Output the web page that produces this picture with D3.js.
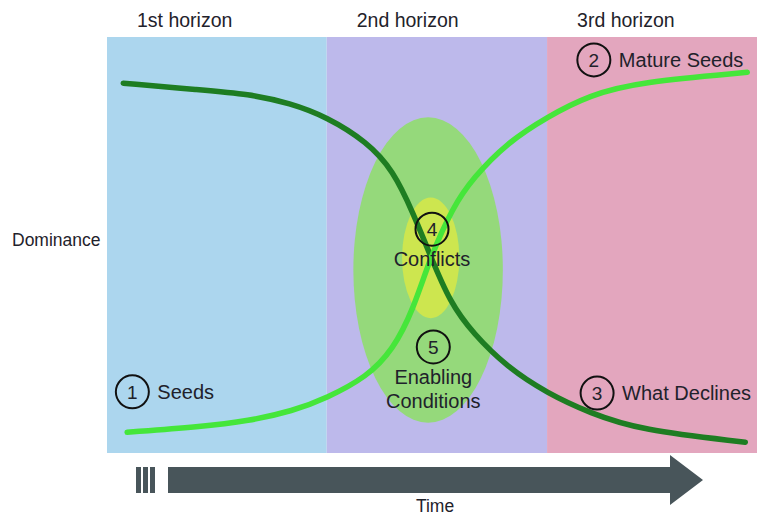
<!DOCTYPE html>
<html>
<head>
<meta charset="utf-8">
<script src="https://cdn.jsdelivr.net/npm/d3@7/dist/d3.min.js"></script>
<style>
  body { margin: 0; background: #fff; }
  svg text { font-family: "Liberation Sans", Arial, sans-serif; fill: #1f222b; }
</style>
</head>
<body>
<div id="chart"></div>
<script>
// Horizons (time ranges, 0..100)
const horizonNames = ['1st horizon', '2nd horizon', '3rd horizon'];
const horizonStart = [0, 33.8, 67.7];
const horizonEnd = [33.8, 67.7, 100];
const horizonColors = ['#acd6ee', '#bdb9eb', '#e3a6be'];

// Dominance curves (time, dominance)
const declineTime = [2.5, 14.3, 21.8, 28.2, 33.8, 40.0, 44.0, 47.1, 49.7, 52.8, 56.3, 61.5, 67.7, 74.3, 82.0, 98.2];
const declineValue = [88.9, 87.3, 86.3, 84.1, 80.8, 74.8, 68.0, 57.7, 47.6, 36.1, 28.8, 20.7, 14.4, 9.6, 5.5, 2.6];
const riseTime = [3.1, 14.3, 21.8, 28.6, 33.8, 40.0, 44.0, 47.1, 49.7, 53.2, 56.3, 61.5, 67.7, 74.3, 82.0, 98.5];
const riseValue = [5.0, 6.3, 7.7, 10.1, 13.2, 18.3, 24.8, 34.4, 46.9, 59.1, 66.1, 74.5, 80.8, 86.1, 89.2, 91.5];

// Zones: centre (time, dominance) and radii
const zoneCx = [49.4, 49.8];
const zoneCy = [44.0, 46.9];
const zoneRx = [11.5, 4.4];
const zoneRy = [36.7, 14.5];
const zoneColors = ['#95d97b', '#cde64f'];

// Numbered annotations
const noteNum = [1, 2, 3, 4, 5];
const noteLines = [['Seeds'], ['Mature Seeds'], ['What Declines'], ['Conflicts'], ['Enabling', 'Conditions']];
const noteX = [3.9, 74.9, 75.4, 50.0, 50.2];
const noteY = [14.7, 94.5, 14.4, 53.8, 25.5];
const noteSide = ['right', 'right', 'right', 'below', 'below'];

const width = 758, height = 515;
const margin = { left: 107, right: 1, top: 37, bottom: 62 };

const x = d3.scaleLinear().domain([0, 100]).range([margin.left, width - margin.right]);
const y = d3.scaleLinear().domain([0, 100]).range([height - margin.bottom, margin.top]);

const svg = d3.select('#chart').append('svg')
  .attr('width', width)
  .attr('height', height);

// Background bands
svg.selectAll('rect.band')
  .data(horizonNames)
  .enter()
  .append('rect')
    .attr('class', 'band')
    .attr('x', (d, i) => x(horizonStart[i]))
    .attr('y', y(100))
    .attr('width', (d, i) => x(horizonEnd[i]) - x(horizonStart[i]))
    .attr('height', y(0) - y(100))
    .attr('fill', (d, i) => horizonColors[i]);

svg.selectAll('text.horizon')
  .data(horizonNames)
  .enter()
  .append('text')
    .attr('class', 'horizon')
    .attr('x', (d, i) => x(horizonStart[i]) + 30)
    .attr('y', 27)
    .style('font-size', '19.5px')
    .text(d => d);

// Zones
svg.selectAll('ellipse.zone')
  .data(zoneCx)
  .enter()
  .append('ellipse')
    .attr('class', 'zone')
    .attr('cx', (d, i) => x(zoneCx[i]))
    .attr('cy', (d, i) => y(zoneCy[i]))
    .attr('rx', (d, i) => x(zoneRx[i]) - x(0))
    .attr('ry', (d, i) => y(0) - y(zoneRy[i]))
    .attr('fill', (d, i) => zoneColors[i]);

// Curves
const line = d3.line()
  .x(d => x(d[0]))
  .y(d => y(d[1]))
  .curve(d3.curveBasis);

svg.append('path')
  .datum(declineTime.map((t, i) => [t, declineValue[i]]))
  .attr('d', line)
  .attr('fill', 'none')
  .attr('stroke', '#1e7d22')
  .attr('stroke-width', 5.5)
  .attr('stroke-linecap', 'round');

svg.append('path')
  .datum(riseTime.map((t, i) => [t, riseValue[i]]))
  .attr('d', line)
  .attr('fill', 'none')
  .attr('stroke', '#45e63a')
  .attr('stroke-width', 5.5)
  .attr('stroke-linecap', 'round');

// Annotations
const notes = svg.selectAll('g.note')
  .data(noteNum)
  .enter()
  .append('g')
    .attr('class', 'note')
    .attr('transform', (d, i) => `translate(${x(noteX[i])},${y(noteY[i])})`);

notes.append('circle')
  .attr('r', 16.5)
  .attr('fill', 'none')
  .attr('stroke', '#111')
  .attr('stroke-width', 2);

notes.append('text')
  .attr('text-anchor', 'middle')
  .attr('dy', '0.36em')
  .style('font-size', '19px')
  .text(d => d);

notes.each(function (d, i) {
  const g = d3.select(this);
  noteLines[i].forEach((s, k) => {
    const t = g.append('text').style('font-size', '20px').text(s);
    if (noteSide[i] === 'right') {
      t.attr('x', 25).attr('dy', '0.36em');
    } else {
      t.attr('text-anchor', 'middle').attr('y', 37 + k * 24);
    }
  });
});

// Axis labels
svg.append('text')
  .attr('x', 12)
  .attr('y', 246)
  .style('font-size', '17.5px')
  .text('Dominance');

// Time arrow
const ay = 480, ah = 13, headH = 25;
const arrowG = svg.append('g').attr('fill', '#48555a');
[136, 143, 150].forEach(bx => {
  arrowG.append('rect').attr('x', bx).attr('y', ay - ah).attr('width', 5).attr('height', ah * 2);
});
arrowG.append('path')
  .attr('d', `M168,${ay - ah} H670 V${ay - headH} L703,${ay} L670,${ay + headH} V${ay + ah} H168 Z`);

svg.append('text')
  .attr('x', 435)
  .attr('y', 512)
  .attr('text-anchor', 'middle')
  .style('font-size', '17.5px')
  .text('Time');
</script>
</body>
</html>
